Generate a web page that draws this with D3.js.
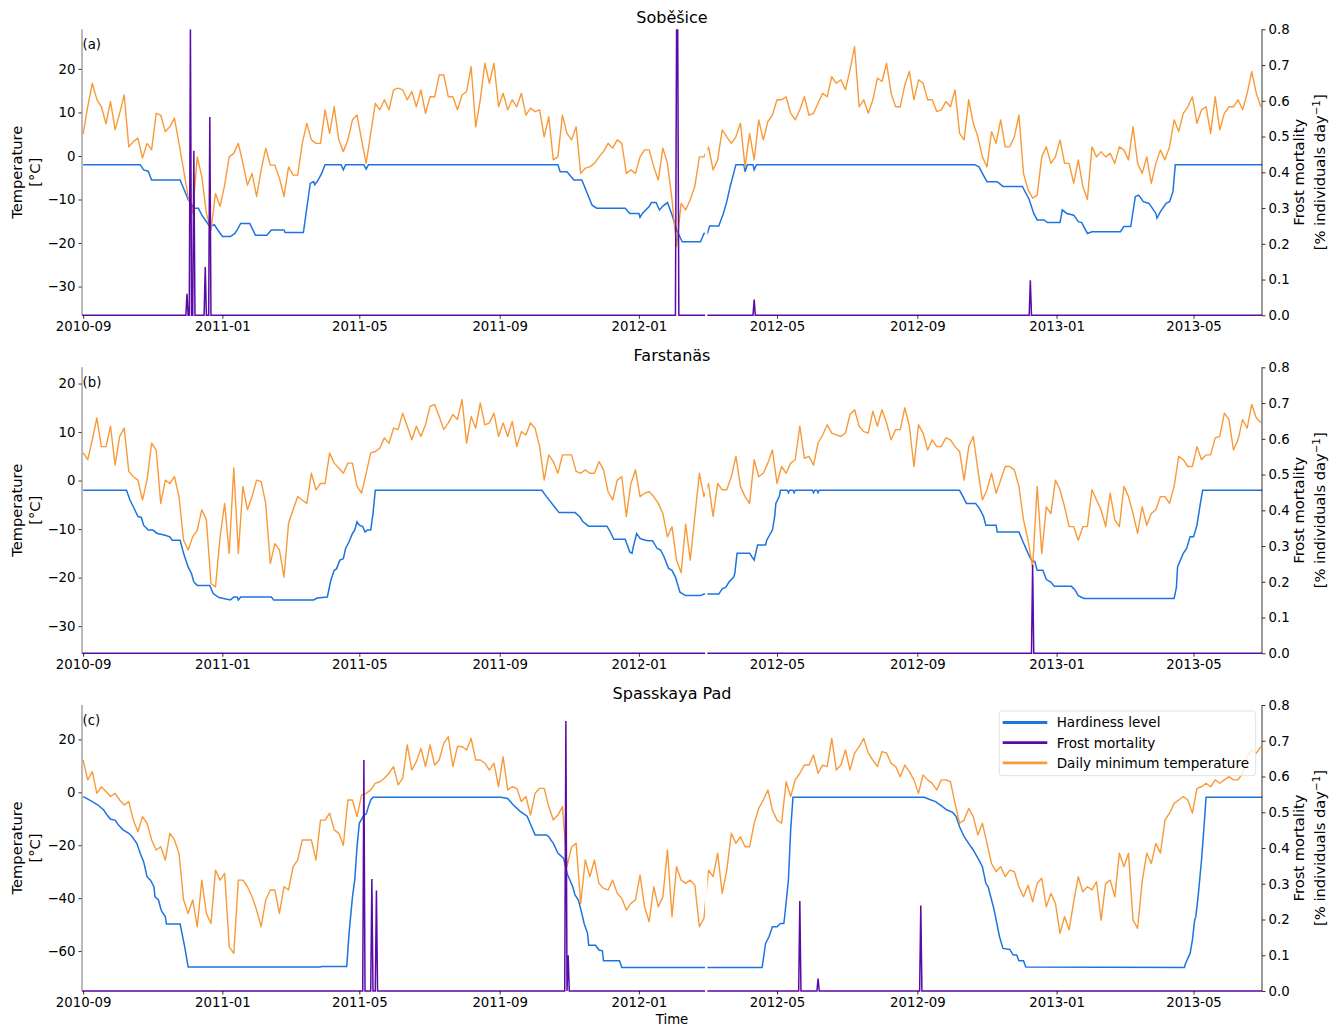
<!DOCTYPE html>
<html>
<head>
<meta charset="utf-8">
<script src="https://cdn.jsdelivr.net/npm/d3@7"></script>
<style>
  body { margin: 0; background: #fff; }
  text { font-family: "DejaVu Sans", sans-serif; fill: #000; }
</style>
</head>
<body>
<svg id="chart" width="1338" height="1027"></svg>
<script>
// Daily minimum temperature, sampled every 4 days from 2010-09-01
const startDate = new Date(2010, 8, 1);
const dayStep = 4;
const siteNames = ["Soběšice", "Farstanäs", "Spasskaya Pad"];
const panelLetters = ["(a)", "(b)", "(c)"];
const tempTicks = [[-30, -20, -10, 0, 10, 20], [-30, -20, -10, 0, 10, 20], [-60, -40, -20, 0, 20]];
const tempLimits = [[-36.6, 29.1], [-35.6, 23.35], [-75.1, 33.0]];
const mortalityTicks = [0, 0.1, 0.2, 0.3, 0.4, 0.5, 0.6, 0.7, 0.8];
const missingDay = new Date(2012, 1, 29);

const tempSobesice = [
  5, 11.3, 16.7, 13, 11.3, 7.4, 12.5, 6, 9.8, 14, 2.1, 3.3, 4.1, -0.5, 2.9, 1.4, 9.8, 9.4, 5.6, 6.7,
  8.7, 2.9, -3.2, -9.3, -13.2, -0.2, -4.8, -13.2, -17, -8.6, -11.6, -6.7, -0.2, 0.6, 2.9, -1.7, -6.7, -4, -9.3, -3.2,
  1.8, -2.1, -2.1, -5.1, -9.3, -2.5, -4.4, -4.4, 2.9, 7.5, 3.7, 2.9, 2.9, 10.6, 5.2, 11.3, 3.7, 1, 3.7, 8.3,
  9.4, 3.7, -1.7, 5.2, 12.1, 10.6, 12.9, 10.6, 15.2, 15.6, 15.2, 12.9, 14.8, 11.3, 15.2, 9.8, 13.6, 13.6, 18.6, 18.6,
  13.6, 13.6, 10.6,
  14, 14.8, 20.5, 6.7, 12.9, 21.3, 16.7, 21.3, 11.3, 14.4, 10.6, 12.9, 11.3, 14.4, 9.4, 11, 10.2, 10.6, 4.4, 9,
  -0.9, -0.2, 9.4, 5.2, 3.7, 6.7, -4, -2.8, -2.5, -1.7, -0.2, 1, 2.9, 1.8, 3.7, 2.9, -4, -3.2, -4, -0.2,
  1.4, 1.4, -2.5, -5.5, 1.8, -1.7, -10, -20.8, -10.9, -12.4, -10, -7, -0.2, -0.2, 2.1, -3.2, -0.9, 6, 4.4, 2.9,
  4.4, 7.5, -2.5, 5.2, -0.9, 8.3, 3.7, 7.9, 9.4, 12.9, 12.9, 13.6, 9.8, 8.3, 10.6, 13.6, 9.4, 9.8, 12.1, 14.4,
  13.6, 18.2, 16.7, 17.5, 15.2, 19.8, 25.1, 11.3, 12.9, 9.8, 12.9, 17.9, 17.1, 21.3, 14.4, 11.3, 11.3,
  16.3, 19.4, 12.9, 17.5, 16.7, 12.9, 12.9, 10.2, 10.6, 12.5, 11.3, 15.2, 5.2, 3.7, 12.9, 7.5, 4.4, -0.2, -2.5, 5.6,
  2.9, 8.3, 2.1, 2.1, 4.4, 9.4, -4, -7.8, -9.7, -9, -0.2, 2.1, -1.7, -0.2, 3.7, -1.7, -1.7, -6.3, -0.9, -7,
  -10, 2.1, -0.2, 1, -0.2, 0.6, -1.7, 2.1, 1.4, -0.9, 6.7, -1.7, -4, -0.2, -6.3, -1.7, 1.4, -0.9, 2.1, 8.3,
  5.6, 9.8, 11.3, 13.6, 7.5, 10.6, 11.3, 5.2, 13.6, 6, 9.8, 11.3, 11.3, 12.9, 10.6, 14.4, 19.4, 14.4, 11.3
];
const tempFarstanas = [
  5.7, 4.3, 8.4, 12.9, 7, 7, 11.2, 3.2, 9.1, 10.8, 1.9, 0.8, 0.1, -4, 0.1, 7.7, 6.3, -4.7, 0.1, -0.6,
  0.8, -3.3, -12.3, -14.3, -11.6, -10.2, -6, -8.1, -21.2, -21.9, -11.6, -4.7, -15, 2.6, -15, -1.2, -6, -3.3, 0.1, -0.2,
  -4.7, -17.1, -13, -14.3, -19.9, -8.8, -6, -3.3, -4, -4.7, 1.5, -1.9, -0.6, -0.6, 5.7, 3.6, 2.6, 1.5, 3.6, 3.6,
  -1.2, -2.6, 1.5, 5.7, 6, 6.7, 8.8, 7.7, 10.8, 10.5, 13.9, 11.2, 8.4, 11.2, 9.1, 11.5, 15.3, 15.7, 13.2, 10.5,
  11.9, 13.6, 12.6,
  16.7, 7.7, 13.2, 10.8, 16, 11.5, 11.9, 13.9, 9.1, 11.9, 9.1, 12.2, 7, 10.1, 9.4, 11.9, 10.8, 7, 0.1, 5.3,
  3.9, 1.5, 5.3, 5.3, 5.3, 1.9, 1.5, 2.2, 1.5, 1.5, 3.9, 2.2, -2.3, -4, 0.1, 0.8, -7.4, -0.6, 2.2, -3.3,
  -2.6, -2.3, -3.3, -4.7, -6.8, -11.6, -9.5, -16.4, -19, -9, -16.4, -7.4, 1.5, -3.3, -0.6, -7.4, -0.6, -1.9, -1.9, 0.8,
  5, -1.2, -3.3, -4.7, 4.3, 0.8, 1.5, 3.6, 6.3, -0.6, 2.9, 1.5, 3.6, 4.3, 11.2, 4.6, 5, 3.2, 7.7, 9.4,
  11.5, 9.8, 9.4, 9.1, 9.8, 13.6, 14.6, 11.2, 10.1, 9.8, 14.3, 11.2, 14.6, 11.9, 8.4, 10.5, 10.5,
  15, 11.2, 2.9, 11.5, 9.8, 6.3, 8.4, 7, 7, 8.8, 8.4, 7, 6, 0.1, 7, 9.1, 2.2, -4, -1.9, 1.5,
  -2.6, 0.1, 2.9, 2.9, 2.2, -1.2, -8.1, -12.3, -18, -1.2, -15, -5.4, -6.8, 0.1, -1.9, -5.4, -9.5, -9.5, -12.3, -9.5,
  -9.5, -1.9, -4, -6, -9.5, -2.6, -8.1, -9.5, -1.2, -3.3, -6.8, -10.9, -5.4, -9.2, -6.8, -6, -3.3, -3.3, -4.7, -1.2,
  5, 4.3, 2.9, 2.9, 7, 4.3, 5.3, 5.3, 8.8, 9.1, 13.9, 12.6, 6.3, 8.4, 12.6, 10.8, 15.7, 12.9, 11.9
];
const tempSpasskaya = [
  12.2, 4.7, 7.8, -0.4, 2.1, 0.3, -1.6, -0.4, -2.9, -4.8, -3.5, -10.5, -14.9, -9.2, -11.7, -18, -21.8, -20.6, -25.6, -15.5,
  -18, -23, -40.7, -45.8, -40.7, -50.8, -33.2, -45.8, -49.6, -29.4, -33.2, -30.6, -58.4, -60.9, -33.2, -33.2, -35.7, -39.5, -44.5, -50.8,
  -40.7, -36.9, -36.9, -45.8, -35.7, -36.9, -28.1, -25.6, -18, -18, -18, -25.6, -10.5, -10.5, -7.9, -14.2, -15.5, -20, -2.9, -2.9,
  -9.2, -1, -0.4, 0.9, 3.4, 4, 5.3, 7.2, 9.7, 2.8, 5.3, 17.9, 8.4, 11.6, 16.6, 9.7, 17.9, 10.3, 12.2, 18.5,
  21, 9.7, 17.3,
  17.3, 16, 20.4, 12.2, 12.2, 11, 8.4, 11, 2.1, 13.5, 0.9, 2.1, 1.5, -3.5, -1.6, -8.6, -0.4, 1.5, 1.5, -5.4,
  -10.5, -8.6, -5.4, -28, -20.6, -19.3, -42, -25.6, -31.9, -25.6, -34.4, -36.3, -36.9, -33.2, -38.2, -40.1, -44.5, -42, -40.7, -31.3,
  -43.3, -48.9, -35.7, -43.3, -39.5, -21.8, -47, -28.1, -33.2, -34.4, -33.2, -35.1, -50.8, -47.7, -29.4, -31.9, -23, -38.2, -29.4, -15.5,
  -19.3, -16.8, -20.6, -20.6, -11.7, -6.1, -2.9, 0.9, -6.7, -10.5, -11.7, 4, -1.6, 4.7, 7.2, 10.3, 10.3, 14.1, 7.2, 10.3,
  9.7, 20.4, 8.4, 10.3, 16, 8.4, 14.8, 17.3, 20.4, 14.8, 12.2, 9.7, 15.4, 14.8, 11, 9.7, 5.9,
  10.3, 7.8, 4.7, -0.4, 6.6, 4.7, 3.4, 0.9, 4.7, 4.7, 4, -4.2, -11.7, -10.5, -6.1, -9.2, -16.1, -11.7, -19.3, -26.9,
  -30, -28.1, -31.9, -29.4, -30, -35.7, -39.5, -35.1, -41.4, -34.4, -32.5, -43.3, -38.2, -42, -53.3, -47, -52, -41.4, -31.9, -37.6,
  -35.7, -36.9, -33.8, -48.3, -34.4, -33.2, -39.5, -23, -28.1, -23, -48.3, -51.4, -33.8, -23, -26.9, -19.3, -23, -10.5, -7.9, -4.2,
  -2.9, -1.6, -2.9, -7.9, 1.5, 2.1, 3.4, 2.1, 4.7, 3.4, 4.7, 5.9, 4.7, 4.7, 7.2, 13.5, 16, 14.8, 17.3
];

// Hardiness level: [days since 2010-09-01, °C] at each change
const hardSobesice = [
  [0, -2], [50, -2], [53, -3.2], [57, -3.5], [60, -5.5], [85, -5.5], [92, -10], [97, -12], [101, -12], [104, -13.6],
  [107, -14.7], [111, -16.2], [115, -15.8], [118, -17], [122, -18.5], [129, -18.5], [133, -17.8], [135, -17], [138, -15.5],
  [146, -15.5], [151, -18.2], [161, -18.2], [163, -17.6], [165, -17], [176, -17], [177, -17.6], [193, -17.6], [199, -6.3],
  [202, -5.9], [203, -6.6], [206, -5.5], [209, -4], [212, -2], [226, -2], [228, -3.2], [230, -2], [246, -2], [248, -3],
  [250, -2], [416, -2], [418, -3.6], [424, -3.6], [430, -5.5], [437, -5.5], [446, -11.3], [450, -12], [475, -12],
  [479, -13.2], [487, -13.2], [488, -14.1], [490, -13.2], [496, -11.6], [498, -10.7], [502, -10.7], [505, -12.4],
  [508, -11.5], [512, -10.7], [516, -13.5], [520, -17], [525, -19.7], [541, -19.7], [544, -17.8], [547, -17.8],
  [549, -16.1], [557, -16.1], [561, -13.2], [564, -10.5], [567, -7], [570, -4], [572, -2], [579, -2], [580, -3.6],
  [582, -2], [587, -2], [588, -3.2], [590, -2], [781, -2], [785, -2.5], [788, -4], [792, -5.9], [801, -5.9], [806, -7],
  [823, -7], [829, -10], [833, -13.2], [836, -14.7], [842, -14.7], [845, -15.3], [856, -15.3], [858, -12.4], [862, -13.2],
  [868, -13.6], [872, -15.1], [875, -15.3], [880, -17.8], [884, -17.4], [909, -17.4], [912, -16.2], [918, -16.2],
  [922, -9.3], [925, -9], [929, -10.5], [934, -10.9], [940, -13.2], [941, -14.3], [944, -12.8], [949, -10.9],
  [952, -10.5], [955, -8.2], [957, -2], [1034, -2]
];
const hardFarstanas = [
  [0, -2], [38, -2], [41, -4], [44, -5.4], [48, -7.4], [51, -7.6], [53, -9.2], [57, -10.2], [61, -10.2], [65, -10.9],
  [71, -11.2], [76, -11.6], [78, -12.3], [85, -12.3], [88, -15], [92, -17.8], [95, -19.2], [97, -20.9], [100, -21.6],
  [111, -21.6], [114, -23.3], [119, -24.1], [129, -24.6], [132, -24], [135, -24], [136, -24.6], [138, -24], [165, -24],
  [167, -24.6], [202, -24.6], [205, -24.2], [214, -24], [217, -20.6], [220, -18.5], [222, -18.2], [225, -16.4],
  [228, -16.1], [230, -14], [233, -12.6], [236, -10.9], [238, -10.2], [240, -8.5], [242, -9.2], [245, -9.5],
  [247, -10.6], [249, -10.2], [252, -10.2], [254, -6.8], [256, -2], [402, -2], [406, -3.3], [413, -5.4], [417, -6.6],
  [431, -6.6], [435, -7.4], [438, -8.5], [443, -9.4], [459, -9.4], [462, -10.6], [465, -12.1], [475, -12.1],
  [479, -14.7], [481, -15], [482, -13.7], [485, -10.9], [488, -11.9], [491, -12.2], [495, -12.4], [499, -12.4],
  [503, -14], [506, -14.3], [509, -15.7], [513, -18.1], [516, -18.5], [519, -19.9], [523, -23], [528, -23.7],
  [541, -23.7], [544, -23.4], [557, -23.4], [560, -22.3], [563, -22], [566, -20.9], [570, -19.9], [571, -19.2],
  [573, -15], [584, -15], [588, -16.4], [591, -13.3], [598, -13.3], [599, -12.3], [604, -10.2], [606, -7.4],
  [607, -4.7], [610, -3.3], [611, -2], [617, -2], [618, -2.5], [619, -2], [622, -2], [623, -2.5], [624, -2],
  [639, -2], [640, -2.5], [641, -2], [643, -2], [644, -2.5], [645, -2], [768, -2], [771, -3.3], [774, -4.7],
  [782, -4.7], [785, -5.6], [789, -7.4], [791, -9.2], [800, -9.2], [801, -10.6], [820, -10.6], [823, -12.3],
  [828, -15], [831, -16.4], [834, -16.7], [836, -18.5], [841, -18.5], [844, -20.4], [848, -20.9], [851, -21.8],
  [866, -21.8], [869, -22.5], [872, -23.7], [877, -24.3], [956, -24.3], [958, -22], [959, -17.8], [964, -15],
  [967, -14], [970, -11.6], [973, -11.6], [976, -9.2], [979, -4.7], [981, -2], [1034, -2]
];
const hardSpasskaya = [
  [0, -1.6], [3, -2.3], [8, -3.5], [13, -4.8], [18, -6.7], [21, -8.6], [24, -10.2], [28, -10.5], [31, -12.4],
  [35, -14.2], [40, -15.5], [43, -16.8], [47, -19.3], [50, -23], [53, -26.2], [56, -31.9], [59, -33.2], [62, -35.7],
  [63, -39.5], [66, -40.7], [68, -43.9], [69, -45.1], [72, -47], [73, -49.8], [85, -49.8], [89, -58.4], [92, -66],
  [208, -66], [209, -65.8], [231, -65.8], [233, -53.3], [236, -39.5], [238, -33.2], [240, -20.6], [242, -11.7],
  [246, -8.6], [248, -8.3], [250, -5.4], [252, -2.9], [254, -1.9], [366, -1.9], [372, -2.3], [377, -4.8], [383, -7.2],
  [389, -9], [393, -13], [396, -16.1], [406, -16.1], [408, -16.8], [412, -19.3], [416, -23], [421, -25], [424, -30.6],
  [429, -35.7], [431, -38.8], [434, -40.7], [437, -45.8], [439, -49.6], [442, -53.3], [443, -57.8], [449, -57.8],
  [452, -59.6], [455, -59.9], [456, -63.7], [470, -63.7], [472, -66.2], [595, -66.2], [598, -57.1], [601, -54.6],
  [604, -50.8], [608, -50.8], [611, -49.6], [614, -49.6], [615, -45.8], [618, -33.2], [620, -14.2], [622, -1.9],
  [737, -1.9], [743, -2.9], [747, -3.5], [753, -5.4], [757, -6.7], [762, -7.6], [765, -9.2], [768, -13], [772, -16.8],
  [778, -20.6], [780, -21.8], [785, -25.6], [788, -28.1], [791, -34.4], [793, -35.7], [798, -43.9], [803, -54.6],
  [806, -59], [812, -59.4], [815, -61.5], [818, -61.5], [820, -63.7], [824, -63.7], [826, -66], [965, -66.2],
  [966, -64.7], [970, -60.9], [972, -55.9], [974, -48.3], [975, -47], [977, -39.5], [980, -25.6], [982, -14.2],
  [984, -1.9], [1034, -1.9]
];

// Frost mortality spikes: [days since 2010-09-01, % individuals per day]; every other day is 0
const mortSobesice = [[91, 0.06], [94, 0.8], [97, 0.46], [107, 0.135], [111, 0.555], [520, 0.8], [521, 0.8], [588, 0.044], [830, 0.098]];
const mortFarstanas = [[832, 0.247]];
const mortSpasskaya = [[246, 0.646], [253, 0.313], [257, 0.281], [423, 0.755], [425, 0.1], [628, 0.252], [644, 0.035], [734, 0.239]];

const legendLabels = ["Hardiness level", "Frost mortality", "Daily minimum temperature"];
const colors = { hard: "#1c74e0", mort: "#5a0aa6", temp: "#f99a38" };

const temps = [tempSobesice, tempFarstanas, tempSpasskaya];
const hards = [hardSobesice, hardFarstanas, hardSpasskaya];
const morts = [mortSobesice, mortFarstanas, mortSpasskaya];

const svg = d3.select("#chart");
const left = 82, right = 1262, panelH = 286;
const panelTops = [29.3, 367.3, 705];
const minus = v => (v < 0 ? "\u2212" + Math.abs(v) : String(v));

const x = d3.scaleTime()
  .domain([new Date(2010, 7, 31), new Date(2013, 5, 30)])
  .range([left, right]);

const asDate = d => d3.timeDay.offset(startDate, d);

panelTops.forEach((top, i) => {
  const bottom = top + panelH;
  const g = svg.append("g");

  const yT = d3.scaleLinear().domain(tempLimits[i]).range([bottom, top]);
  const yM = d3.scaleLinear().domain([0, 0.8]).range([bottom, top]);

  // clip to axes, leaving out the missing leap day
  const clipId = "clip" + i;
  const clip = svg.append("clipPath").attr("id", clipId);
  const gapA = x(d3.timeDay.offset(missingDay, -1)), gapB = x(d3.timeDay.offset(missingDay, 1));
  clip.append("rect").attr("x", left).attr("y", top).attr("width", gapA - left).attr("height", panelH + 1.5);
  clip.append("rect").attr("x", gapB).attr("y", top).attr("width", right - gapB).attr("height", panelH + 1.5);

  const tempData = temps[i].map((v, k) => ({ date: asDate(k * dayStep), value: v }));
  const hardData = hards[i].map(([d, v]) => ({ date: asDate(d), value: v }));
  const mortDaily = d3.range(-1, 1034).map(d => ({ date: asDate(d), value: 0 }));
  morts[i].forEach(([d, v]) => { mortDaily[d + 1].value = v; });

  const plot = g.append("g").attr("clip-path", `url(#${clipId})`);
  const lineT = d3.line().x(d => x(d.date)).y(d => yT(d.value));
  const lineM = d3.line().x(d => x(d.date)).y(d => yM(d.value));

  plot.append("path").datum(hardData).attr("d", lineT)
    .attr("fill", "none").attr("stroke", colors.hard).attr("stroke-width", 1.5);
  plot.append("path").datum(tempData).attr("d", lineT)
    .attr("fill", "none").attr("stroke", colors.temp).attr("stroke-width", 1.4).attr("stroke-linejoin", "round");
  plot.append("path").datum(mortDaily).attr("d", lineM)
    .attr("fill", "none").attr("stroke", colors.mort).attr("stroke-width", 1.5);

  // axes
  const axL = g.append("g").attr("transform", `translate(${left},0)`)
    .call(d3.axisLeft(yT).tickValues(tempTicks[i]).tickFormat(minus).tickSize(3.5).tickPadding(3));
  const axR = g.append("g").attr("transform", `translate(${right},0)`)
    .call(d3.axisRight(yM).tickValues(mortalityTicks).tickFormat(d3.format(".1f")).tickSize(3.5).tickPadding(3));
  const axB = g.append("g").attr("transform", `translate(0,${bottom})`)
    .call(d3.axisBottom(x).ticks(d3.timeMonth.every(4)).tickFormat(d3.timeFormat("%Y-%m")).tickSize(3.5).tickPadding(3));
  [axL, axR, axB].forEach(a => {
    a.select(".domain").remove();
    a.selectAll("text").style("font-size", "13.3px").style("font-family", "DejaVu Sans").attr("fill", "#000");
    a.selectAll("line").attr("stroke", "#000").attr("stroke-width", 0.8);
  });
  g.append("line").attr("x1", left).attr("x2", left).attr("y1", top).attr("y2", bottom)
    .attr("stroke", "#8c8c8c").attr("stroke-width", 1.2);
  g.append("line").attr("x1", right).attr("x2", right).attr("y1", top).attr("y2", bottom)
    .attr("stroke", "#000").attr("stroke-width", 0.8);

  // titles and labels
  g.append("text").attr("x", (left + right) / 2).attr("y", top - 5.9)
    .attr("text-anchor", "middle").style("font-size", "16px").text(siteNames[i]);
  g.append("text").attr("x", left + 0.5).attr("y", top + 20)
    .style("font-size", "13.3px").text(panelLetters[i]);

  const midY = top + 143;
  const tl = g.append("text").attr("transform", `translate(0,${midY}) rotate(-90)`)
    .attr("text-anchor", "middle").style("font-size", "14.7px");
  tl.append("tspan").attr("x", 0).attr("y", 22.2).text("Temperature");
  tl.append("tspan").attr("x", 0).attr("y", 40.2).text("[°C]");

  const tr = g.append("text").attr("transform", `translate(0,${midY}) rotate(-90)`)
    .attr("text-anchor", "middle").style("font-size", "14.7px");
  tr.append("tspan").attr("x", 0).attr("y", 1304).text("Frost mortality");
  const t2 = tr.append("tspan").attr("x", 0).attr("y", 1325);
  t2.append("tspan").text("[% individuals day");
  t2.append("tspan").attr("dy", -5.5).style("font-size", "10.3px").text("\u22121");
  t2.append("tspan").attr("dy", 5.5).text("]");
});

svg.append("text").attr("x", (left + right) / 2).attr("y", 1023.7)
  .attr("text-anchor", "middle").style("font-size", "13.3px").text("Time");

// legend in panel (c)
const lg = svg.append("g");
lg.append("rect").attr("x", 999.3).attr("y", 711).attr("width", 256.4).attr("height", 64.7).attr("rx", 3)
  .attr("fill", "#fff").attr("fill-opacity", 0.8).attr("stroke", "#d9d9d9").attr("stroke-width", 0.8);
[colors.hard, colors.mort, colors.temp].forEach((c, k) => {
  const yy = 722.5 + k * 20.2;
  lg.append("line").attr("x1", 1002.7).attr("x2", 1047.3).attr("y1", yy).attr("y2", yy)
    .attr("stroke", c).attr("stroke-width", 2.8);
  lg.append("text").attr("x", 1056.7).attr("y", yy + 4.9).style("font-size", "13.55px").text(legendLabels[k]);
});
</script>
</body>
</html>
